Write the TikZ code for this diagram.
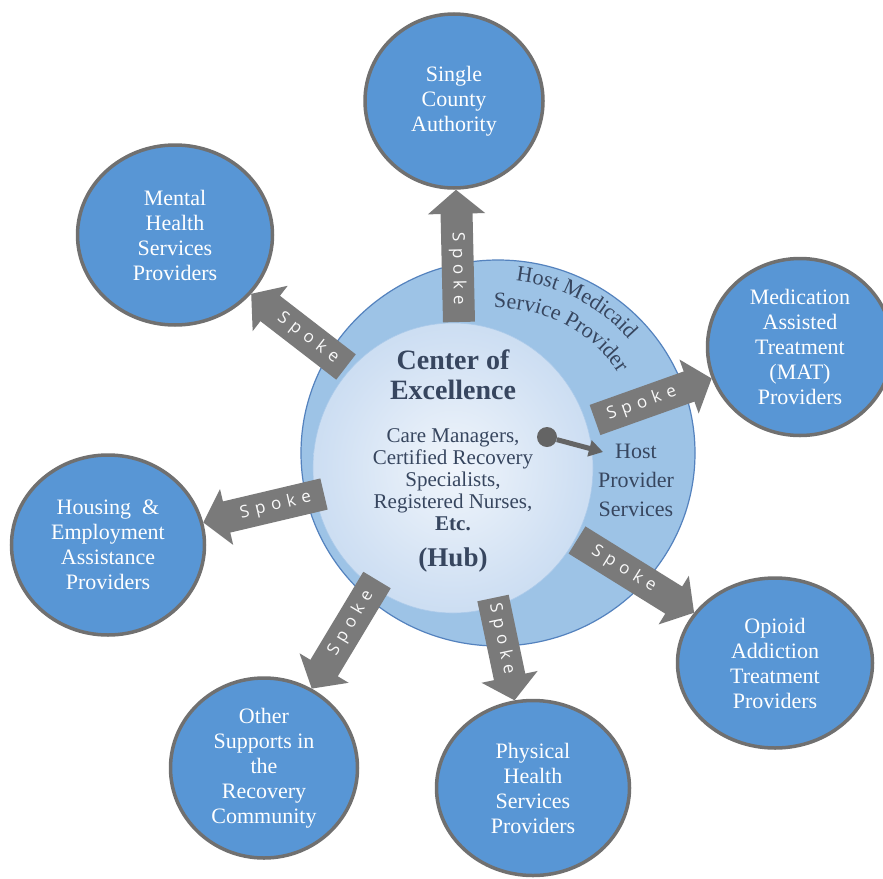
\documentclass[tikz,border=0pt]{standalone}
\usepackage{fontspec}
\setmainfont{Liberation Serif}
\newfontfamily\spokefont{Open Sans}
\usepackage{tikz}
\usepackage{xcolor}
\usetikzlibrary{positioning, calc, shapes.geometric, arrows.meta, decorations.text}

\definecolor{satblue}{RGB}{88,150,213}
\definecolor{satedge}{RGB}{112,112,112}
\definecolor{ringblue}{RGB}{157,195,230}
\definecolor{ringedge}{RGB}{84,130,190}
\definecolor{hubedge}{RGB}{172,202,234}
\definecolor{hubsoft}{RGB}{208,224,243}
\definecolor{hubmid}{RGB}{240,245,251}
\definecolor{hubtext}{RGB}{55,70,95}
\definecolor{spokegray}{RGB}{122,122,122}
\definecolor{dotgray}{RGB}{100,100,100}

\pgfdeclareradialshading{hubglow}{\pgfpoint{0bp}{0bp}}{color(0bp)=(hubmid); color(22bp)=(hubsoft); color(50bp)=(hubedge)}

\newcommand\spoketext{S\kern6pt p\kern6pt o\kern6pt k\kern6pt e}

\tikzset{
  sat/.style={ellipse, draw=satedge, line width=3.5pt, fill=satblue, text=white, align=center, inner sep=0pt, font=\fontsize{22}{25}\selectfont},
  spoke/.style={draw=spokegray, line width=32pt, -{Triangle[width=56pt,length=24pt]}},
  spokelabel/.style={sloped, pos=0.4, text=white!95!gray, inner sep=0pt, font=\spokefont\fontsize{17}{17}\selectfont},
  hubtxt/.style={text=hubtext, align=center, inner sep=0pt},
  arcline/.style={decorate, decoration={text along path, text align=center, text={#1}}}
}

\begin{document}
\begin{tikzpicture}[x=1pt, y=-1pt]
    \useasboundingbox (0,0) rectangle (883,878);
    \fill[white] (0,0) rectangle (883,878);

    \node[ellipse, minimum width=394pt, minimum height=386pt, fill=ringblue, draw=ringedge, line width=1.2pt] (ring) at (498,453) {};
    \node[ellipse, minimum width=280pt, minimum height=290pt, shade, shading=hubglow, draw=hubedge, line width=.6pt] (hub) at (453,468) {};

    \path[arcline={|\fontsize{22}{22}\selectfont\color{hubtext}|Host Medicaid}] ($(ring.center)+(-100:173)$) arc[start angle=-100, end angle=-25, radius=173];
    \path[arcline={|\fontsize{22}{22}\selectfont\color{hubtext}|Service Provider}] ($(ring.center)+(-100:145)$) arc[start angle=-100, end angle=-25, radius=145];

    \node[hubtxt, font=\bfseries\fontsize{28}{30}\selectfont] (coe) at (453,375) {Center of\\Excellence};
    \node[hubtxt, font=\fontsize{21}{22}\selectfont] (staff) at (453,480) {Care Managers,\\Certified Recovery\\Specialists,\\Registered Nurses,\\\textbf{Etc.}};
    \node[hubtxt, font=\bfseries\fontsize{27}{27}\selectfont] (hublbl) at (453,560) {(Hub)};
    \node[hubtxt, font=\fontsize{22}{29}\selectfont] (hps) at (636,480) {Host\\Provider\\Services};

    \node[circle, fill=dotgray, minimum size=20pt, inner sep=0pt] (dot) at (547,437) {};
    \coordinate (hpsin) at (603,452);
    \draw[dotgray, line width=5pt, -{Triangle[width=16pt,length=14pt]}] (dot) -- (hpsin);

    \node[sat, minimum width=178pt, minimum height=174pt] (sca) at (454,101) {Single\\County\\Authority};
    \node[sat, minimum width=195pt, minimum height=180pt] (mhs) at (175,235) {Mental\\Health\\Services\\Providers};
    \node[sat, minimum width=185pt, minimum height=177pt] (mat) at (800,347) {Medication\\Assisted\\Treatment\\(MAT)\\Providers};
    \node[sat, minimum width=193pt, minimum height=180pt] (hea) at (108,545) {Housing \ \&\\Employment\\Assistance\\Providers};
    \node[sat, minimum width=195pt, minimum height=170pt] (oat) at (775,663) {Opioid\\Addiction\\Treatment\\Providers};
    \node[sat, minimum width=187pt, minimum height=180pt] (osr) at (264,768) {Other\\Supports in\\the\\Recovery\\Community};
    \node[sat, minimum width=193pt, minimum height=175pt] (phs) at (533,788) {Physical\\Health\\Services\\Providers};

    \coordinate (t1) at (459,322);
    \coordinate (t2) at (346,367);
    \coordinate (t3) at (595,420);
    \coordinate (t4) at (324,494);
    \coordinate (t5) at (377,580);
    \coordinate (t6) at (493,598);
    \coordinate (t7) at (577,540);

    \draw[spoke] (t1) -- node[spokelabel] {\spoketext} (sca);
    \draw[spoke] (t2) -- node[spokelabel] {\spoketext} (mhs);
    \draw[spoke] (t3) -- node[spokelabel] {\spoketext} (mat);
    \draw[spoke] (t4) -- node[spokelabel] {\spoketext} (hea);
    \draw[spoke] (t5) -- node[spokelabel] {\spoketext} (osr);
    \draw[spoke] (t6) -- node[spokelabel] {\spoketext} (phs);
    \draw[spoke] (t7) -- node[spokelabel] {\spoketext} (oat);
\end{tikzpicture}
\end{document}
